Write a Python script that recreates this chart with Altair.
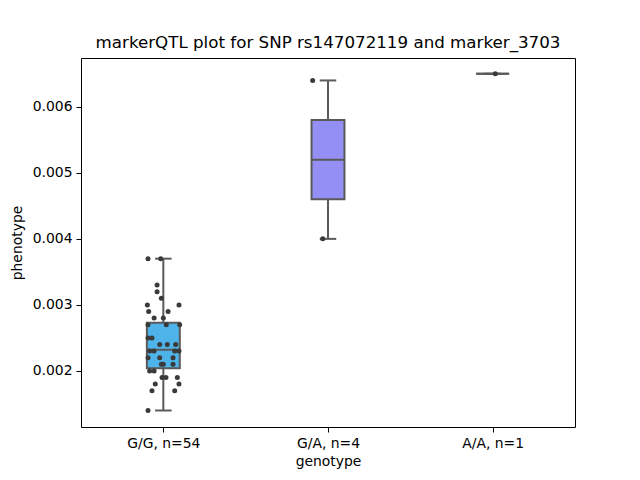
import altair as alt
import pandas as pd

# ---- data ----
categories = ["G/G, n=54", "G/A, n=4", "A/A, n=1"]
box_colors = ["#4eb3e8", "#938ff4", "#938ff4"]
q1 = [0.00204, 0.0046, 0.0065]
median = [0.00232, 0.0052, 0.0065]
q3 = [0.00273, 0.0058, 0.0065]
whisker_lo = [0.0014, 0.0040, 0.0065]
whisker_hi = [0.0037, 0.0064, 0.0065]

gg_values = [0.0037, 0.0037, 0.0033, 0.0032, 0.0031, 0.0030, 0.0030, 0.0029, 0.0029,
             0.0028, 0.0028, 0.0027, 0.0027, 0.0027, 0.0025, 0.0025, 0.0024, 0.0024,
             0.0024, 0.0023, 0.0023, 0.0023, 0.0023, 0.0022, 0.0022, 0.0022, 0.0021,
             0.0021, 0.0021, 0.0020, 0.0020, 0.0019, 0.0019, 0.0019, 0.0018, 0.0018,
             0.0017, 0.0017, 0.0014]
gg_jitter = [-0.093, -0.016, -0.038, -0.038, -0.012, -0.097, 0.095, -0.089, 0.029,
             -0.056, 0.0, -0.093, 0.018, 0.099, -0.093, -0.069, -0.022, 0.024,
             0.075, -0.083, -0.056, 0.069, 0.095, -0.093, -0.022, 0.059, -0.012,
             0.0, 0.059, -0.083, -0.056, -0.008, 0.016, 0.085, -0.049, 0.095,
             -0.069, 0.069, -0.093]
ga_values = [0.0064, 0.0040]
ga_jitter = [-0.093, -0.032]
aa_values = [0.0065]
aa_jitter = [0.016]

title = "markerQTL plot for SNP rs147072119 and marker_3703"

# ---- tables ----
box_df = pd.DataFrame({
    "pos": [0, 1, 2], "cat": categories, "color": box_colors,
    "q1": q1, "median": median, "q3": q3, "lo": whisker_lo, "hi": whisker_hi,
})
pts = []
for i, (vals, jit) in enumerate([(gg_values, gg_jitter), (ga_values, ga_jitter), (aa_values, aa_jitter)]):
    for v, j in zip(vals, jit):
        pts.append({"pos": i, "jitter": j, "value": v})
pts_df = pd.DataFrame(pts)

xscale = alt.Scale(domain=[-0.5, 2.5], nice=False, zero=False)
yscale = alt.Scale(domain=[0.00115, 0.00674], nice=False, zero=False)
label_expr = "datum.value == 0 ? '%s' : datum.value == 1 ? '%s' : '%s'" % tuple(categories)

x_axis = alt.Axis(values=[0, 1, 2], labelExpr=label_expr, title="genotype", grid=False,
                  domain=False, tickColor="black", tickSize=5, labelPadding=4,
                  titlePadding=5)
y_axis = alt.Axis(values=[0.002, 0.003, 0.004, 0.005, 0.006], format=".3f",
                  title="phenotype", grid=False, domain=False, tickColor="black",
                  tickSize=5, labelPadding=4, titlePadding=8)

base = alt.Chart(box_df).transform_calculate(
    left="datum.pos - 0.1", right="datum.pos + 0.1",
    capl="datum.pos - 0.05", capr="datum.pos + 0.05",
)
line_col = "#5a5a5a"

whisk_low = base.mark_rule(color=line_col, strokeWidth=2).encode(
    x=alt.X("pos:Q", scale=xscale, axis=x_axis),
    y=alt.Y("lo:Q", scale=yscale, axis=y_axis), y2="q1:Q")
whisk_high = base.mark_rule(color=line_col, strokeWidth=2).encode(
    x=alt.X("pos:Q", scale=xscale), y=alt.Y("q3:Q", scale=yscale), y2="hi:Q")
cap_low = base.mark_rule(color=line_col, strokeWidth=2).encode(
    x=alt.X("capl:Q", scale=xscale), x2="capr:Q", y=alt.Y("lo:Q", scale=yscale))
cap_high = base.mark_rule(color=line_col, strokeWidth=2).encode(
    x=alt.X("capl:Q", scale=xscale), x2="capr:Q", y=alt.Y("hi:Q", scale=yscale))
boxes = base.mark_bar(stroke=line_col, strokeWidth=2).encode(
    x=alt.X("left:Q", scale=xscale), x2="right:Q",
    y=alt.Y("q1:Q", scale=yscale), y2="q3:Q",
    fill=alt.Fill("color:N", scale=None))
med = base.mark_rule(color=line_col, strokeWidth=2).encode(
    x=alt.X("left:Q", scale=xscale), x2="right:Q", y=alt.Y("median:Q", scale=yscale))

points = alt.Chart(pts_df).transform_calculate(
    xp="datum.pos + datum.jitter"
).mark_circle(color="#3a3a3a", opacity=1, size=25).encode(
    x=alt.X("xp:Q", scale=xscale), y=alt.Y("value:Q", scale=yscale))

chart = alt.layer(whisk_low, whisk_high, cap_low, cap_high, boxes, med, points).properties(
    width=494, height=369,
    title=alt.TitleParams(title, fontSize=16.7, font="DejaVu Sans", fontWeight="normal",
                          offset=6, color="black"),
    autosize=alt.AutoSizeParams(type="none"),
    padding={"left": 73, "top": 50, "right": 57, "bottom": 45},
).configure_view(stroke="black", strokeWidth=1).configure_axis(
    labelFont="DejaVu Sans", titleFont="DejaVu Sans", labelFontSize=13.9,
    titleFontSize=13.9, titleFontWeight="normal", labelColor="black", titleColor="black",
)

chart.save("out.html", embed_options={"renderer": "svg", "actions": False})
